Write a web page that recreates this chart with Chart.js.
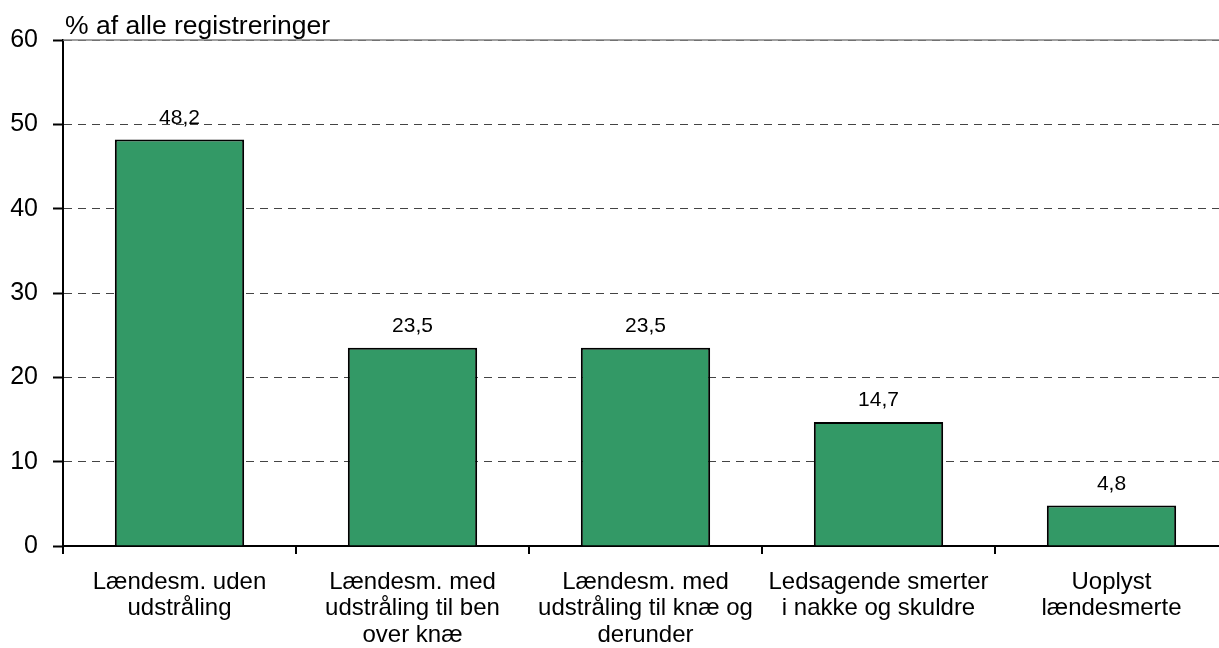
<!DOCTYPE html>
<html>
<head>
<meta charset="utf-8">
<script src="https://cdn.jsdelivr.net/npm/chart.js@4"></script>
<style>
  html, body { margin: 0; padding: 0; background: #fff; overflow: hidden; }
</style>
</head>
<body>
<canvas id="myChartBar" width="1232" height="648"></canvas>
<script>
const categories = [
    ['Lændesm. uden', 'udstråling'],
    ['Lændesm. med', 'udstråling til ben', 'over knæ'],
    ['Lændesm. med', 'udstråling til knæ og', 'derunder'],
    ['Ledsagende smerter', 'i nakke og skuldre'],
    ['Uoplyst', 'lændesmerte']
];
const values = [48.2, 23.5, 23.5, 14.7, 4.8];
const yTicks = [0, 10, 20, 30, 40, 50, 60];
const axisTitle = '% af alle registreringer';

// value labels above bars + solid top border + axis title
const extras = {
    id: 'extras',
    afterDatasetsDraw(chart) {
        const ctx = chart.ctx;
        const area = chart.chartArea;
        ctx.save();
        ctx.strokeStyle = '#808080';
        ctx.lineWidth = 1.5;
        ctx.beginPath();
        ctx.moveTo(area.left, area.top);
        ctx.lineTo(area.right, area.top);
        ctx.stroke();

        ctx.fillStyle = '#000';
        ctx.font = '21px Arial, "Liberation Sans"';
        ctx.textAlign = 'center';
        ctx.textBaseline = 'alphabetic';
        chart.getDatasetMeta(0).data.forEach((bar, i) => {
            ctx.fillText(values[i].toFixed(1).replace('.', ','), bar.x, bar.y - 16);
        });

        ctx.font = '26.5px Arial, "Liberation Sans"';
        ctx.textAlign = 'left';
        ctx.fillText(axisTitle, area.left + 2, area.top - 6);
        ctx.restore();
    }
};

const ctx = document.getElementById('myChartBar').getContext('2d');
new Chart(ctx, {
    type: 'bar',
    data: {
        labels: categories,
        datasets: [{
            data: values,
            backgroundColor: '#339966',
            borderColor: '#000',
            borderWidth: 2,
            barPercentage: 0.555,
            categoryPercentage: 1
        }]
    },
    options: {
        responsive: false,
        animation: false,
        layout: { padding: { top: 40, left: 10, right: 4, bottom: 0 } },
        plugins: {
            legend: { display: false },
            tooltip: { enabled: false }
        },
        scales: {
            x: {
                afterFit(scale) { scale.height = 102; },
                grid: {
                    offset: true,
                    drawOnChartArea: false,
                    drawTicks: true,
                    tickLength: 8,
                    color: '#000',
                    lineWidth: 2
                },
                border: { color: '#000', width: 2 },
                ticks: {
                    color: '#000',
                    font: { family: 'Arial, "Liberation Sans"', size: 24, lineHeight: 1.1 },
                    padding: 15,
                    maxRotation: 0,
                    autoSkip: false
                }
            },
            y: {
                min: 0,
                max: 60,
                afterFit(scale) { scale.width = 53; },
                afterBuildTicks(scale) {
                    scale.ticks = yTicks.map(v => ({ value: v }));
                },
                grid: {
                    color: '#444',
                    lineWidth: 1,
                    tickColor: '#000',
                    tickWidth: 2,
                    tickLength: 10,
                    tickBorderDash: []
                },
                border: { color: '#000', width: 2, dash: [8, 6] },
                ticks: {
                    color: '#000',
                    font: { family: 'Arial, "Liberation Sans"', size: 25 },
                    padding: 15
                }
            }
        }
    },
    plugins: [extras]
});
</script>
</body>
</html>
